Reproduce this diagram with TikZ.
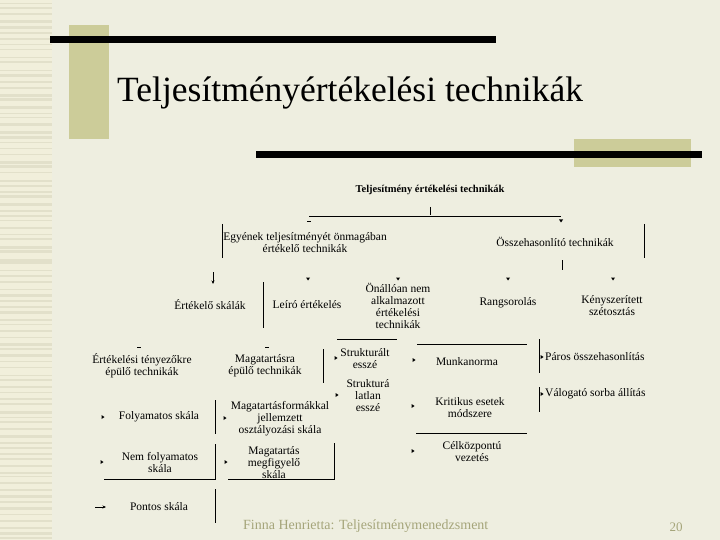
\documentclass[tikz,border=0pt]{standalone}
\usepackage{fontspec}
\setmainfont{Liberation Serif}
\usetikzlibrary{arrows.meta}
\definecolor{bg}{HTML}{EEEEE0}
\definecolor{stripeA}{HTML}{E2E0CA}
\definecolor{stripeB}{HTML}{F1EFDB}
\definecolor{olive}{HTML}{CCCC99}
\definecolor{foot}{HTML}{A5A57A}
\tikzset{
  lbl/.style={font=\fontsize{11.5}{12}\selectfont, align=center, inner sep=0pt},
  ln/.style={line width=0.8pt},
  rtri/.pic={\fill (-1.5,-2)--(1.5,0)--(-1.5,2)--cycle;},
  dtri/.pic={\fill (-2,-1.5)--(2,-1.5)--(0,1.5)--cycle;},
  dashmk/.pic={\draw[line width=0.7pt] (-2,0)--(2,0);}
}
\begin{document}
\begin{tikzpicture}[x=1pt,y=-1pt]
\fill[bg] (0,0) rectangle (720,540);
\useasboundingbox (0,0) rectangle (720,540);
% left stripes
\fill[stripeB] (0,0) rectangle (52,540);
\pgfmathsetseed{7}
\foreach \i in {0,...,88} {
  \pgfmathsetmacro\yy{\i*6.1+rnd*3}
  \pgfmathsetmacro\hh{1+rnd*2}
  \fill[stripeA] (0,\yy) rectangle (52,\yy+\hh);
}
% decorative bars
\fill[olive] (69,25) rectangle (109,139);
\fill[black] (50,36) rectangle (496,43);
\fill[olive] (574,139) rectangle (691,167);
\fill[black] (256,151) rectangle (702,158);
% title
\node[anchor=base west, inner sep=0pt, font=\fontsize{35.5}{40}\selectfont] (title) at (117,102) {Teljesítményértékelési technikák};
% diagram texts
\node[lbl, font=\bfseries\fontsize{10.5}{12}\selectfont] (root) at (430,190) {Teljesítmény értékelési technikák};
\node[lbl] (egyen) at (305,242.5) {Egyének teljesítményét önmagában\\értékelő technikák};
\node[lbl] (ossz) at (555,242) {Összehasonlító technikák};
\node[lbl] (ertsk) at (210,305) {Értékelő skálák};
\node[lbl] (leiro) at (307,305) {Leíró értékelés};
\node[lbl] (onall) at (398,306) {Önállóan nem\\alkalmazott\\értékelési\\technikák};
\node[lbl] (rang) at (508,303) {Rangsorolás};
\node[lbl] (kenysz) at (612,306) {Kényszerített\\szétosztás};
\node[lbl] (tenyezo) at (142,366) {Értékelési tényezőkre\\épülő technikák};
\node[lbl] (magat) at (265,366) {Magatartásra\\épülő technikák};
\node[lbl] (strukt) at (365,358.5) {Strukturált\\esszé};
\node[lbl] (munka) at (467,362) {Munkanorma};
\node[lbl, anchor=west] (paros) at (545,357) {Páros összehasonlítás};
\node[lbl] (strukl) at (368,396) {Strukturá\\latlan\\esszé};
\node[lbl] (krit) at (470,408) {Kritikus esetek\\módszere};
\node[lbl] (celk) at (472,452) {Célközpontú\\vezetés};
\node[lbl, anchor=west] (valog) at (545,394) {Válogató sorba állítás};
\node[lbl] (folyam) at (159,417) {Folyamatos skála};
\node[lbl] (magforma) at (280,419) {Magatartásformákkal\\jellemzett\\osztályozási skála};
\node[lbl] (nemfoly) at (160,463) {Nem folyamatos\\skála};
\node[lbl] (megfig) at (274,462.5) {Magatartás\\megfigyelő\\skála};
\node[lbl] (pontos) at (159,507) {Pontos skála};
% lines
\draw[ln] (430,207)--(430,215);
\draw[ln] (309,216)--(561,216);
\draw[ln] (222,224)--(222,258);
\draw[ln] (644,224)--(644,258);
\draw[ln] (562,260)--(562,270);
\draw[ln] (263,282)--(263,328);
\draw[ln] (323,349)--(323,383);
\draw[ln] (337,339)--(397,339);
\draw[ln] (417,344)--(527,344);
\draw[ln] (539,339)--(539,373);
\draw[ln] (539,387)--(539,412);
\draw[ln] (416,433)--(527,433);
\draw[ln] (215,400)--(215,434);
\draw[ln] (104,479)--(215,479)--(215,444);
\draw[ln] (228,479)--(334,479)--(334,443);
\draw[ln] (215,489)--(215,523);
% markers
\pic at (309,221) {dashmk};
\pic at (561,221) {dtri};
\pic at (308,279) {dtri};
\pic at (398,279) {dtri};
\pic at (508,279) {dtri};
\pic at (613,279) {dtri};
\pic at (139,347) {dashmk};
\pic at (267,347) {dashmk};
\foreach \p in {(336,358),(337,395),(414,360),(413,406),(413,451),(542,357),(542,394),(103,417),(225,418),(102,462),(226,462)}
  \pic at \p {rtri};
\draw[line width=0.7pt,-{Stealth[length=3.5pt,width=3pt]}] (213,272)--(213,284);
\draw[line width=0.7pt,-{Stealth[length=3.5pt,width=3pt]}] (95,507)--(106,507);
% footer
\node[anchor=base west, inner sep=0pt, text=foot, font=\fontsize{14}{14}\selectfont] (footer) at (243,529) {Finna Henrietta: Teljesítménymenedzsment};
\node[anchor=base, inner sep=0pt, text=foot, font=\fontsize{13}{13}\selectfont] (pagenum) at (676,531) {20};
\end{tikzpicture}
\end{document}
